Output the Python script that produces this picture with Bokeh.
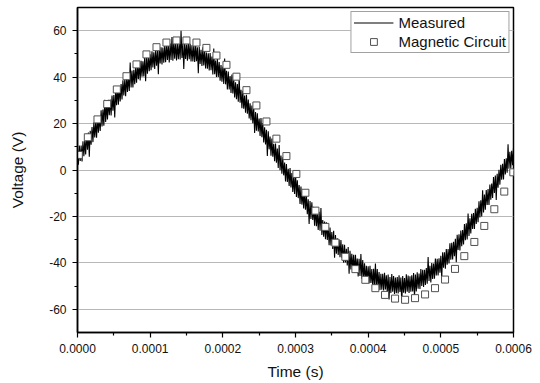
import numpy as np
from bokeh.plotting import figure
from bokeh.models import (FixedTicker, NumeralTickFormatter, Range1d, Legend,
                          LegendItem, ColumnDataSource)
from bokeh.embed import file_html
from bokeh.resources import INLINE

# ---- data ----
# Measured voltage (noisy), sampled every 1.25 microseconds from 0 to 0.6 ms
measured_v = [
    8.9, 2.3, 10.5, 3.9, 10.5, 3.7, 12.4, 5.9,
    12.8, 6.7, 15.6, 8.7, 16.1, 5.7, 16.9, 10.9,
    18.5, 12.0, 20.5, 14.0, 20.8, 13.9, 22.7, 16.1,
    23.0, 16.8, 25.7, 18.7, 26.1, 19.1, 30.3, 20.7,
    28.3, 21.8, 30.2, 23.6, 30.4, 23.5, 32.1, 25.5,
    32.3, 22.6, 34.9, 27.9, 35.2, 28.1, 35.7, 29.5,
    37.0, 30.4, 38.7, 32.1, 38.8, 31.8, 40.4, 33.6,
    40.4, 34.0, 46.3, 35.6, 42.8, 35.6, 43.2, 36.9,
    44.3, 37.6, 45.8, 39.1, 45.7, 38.6, 47.0, 40.2,
    46.8, 40.3, 49.0, 38.2, 48.8, 41.5, 48.9, 42.5,
    49.8, 43.0, 51.1, 44.2, 50.7, 43.5, 51.8, 44.9,
    51.4, 41.3, 53.3, 45.9, 52.9, 45.5, 52.8, 46.2,
    53.4, 46.4, 54.4, 47.4, 53.7, 46.3, 54.5, 47.4,
    57.3, 47.1, 55.5, 47.9, 54.8, 47.2, 54.4, 47.7,
    54.7, 47.6, 60.0, 48.3, 54.5, 43.5, 55.0, 47.8,
    54.0, 47.1, 55.4, 47.7, 54.4, 46.7, 53.7, 46.8,
    53.7, 46.5, 54.1, 46.9, 52.9, 41.7, 53.1, 45.7,
    51.8, 44.8, 52.9, 45.0, 51.6, 43.7, 50.6, 43.6,
    50.3, 42.9, 50.4, 43.0, 48.9, 41.1, 52.3, 41.3,
    47.2, 40.1, 48.0, 40.1, 46.5, 38.5, 45.2, 38.0,
    44.6, 37.1, 48.0, 36.9, 42.7, 34.7, 42.4, 34.7,
    40.5, 33.2, 41.1, 33.0, 39.3, 31.2, 37.8, 30.5,
    37.0, 29.4, 40.1, 29.0, 34.6, 26.6, 34.1, 26.4,
    32.1, 24.7, 32.4, 24.2, 30.4, 22.2, 28.7, 21.4,
    27.8, 20.1, 27.2, 16.0, 25.0, 16.9, 24.4, 16.6,
    22.2, 14.7, 22.4, 14.1, 20.2, 11.9, 18.4, 11.0,
    17.3, 6.0, 16.7, 8.9, 14.4, 6.2, 13.6, 5.7,
    11.3, 3.8, 11.4, 3.1, 9.2, 0.9, 10.8, -0.1,
    6.2, -1.6, 5.5, -2.3, 3.2, -4.9, 2.6, -5.2,
    0.5, -6.9, 0.8, -7.5, -1.3, -9.5, -3.0, -10.3,
    -0.4, -11.6, -4.4, -12.1, -6.5, -14.6, -7.1, -14.9,
    -9.2, -16.6, -8.9, -17.1, -10.9, -19.1, -12.6, -23.3,
    -13.4, -21.1, -13.9, -21.5, -15.9, -24.0, -16.4, -24.2,
    -18.4, -25.8, -18.0, -26.2, -16.4, -28.0, -21.5, -28.7,
    -22.2, -29.8, -22.5, -30.1, -24.4, -32.4, -24.8, -32.5,
    -26.7, -34.0, -26.2, -37.8, -28.0, -36.1, -29.4, -36.6,
    -30.0, -37.6, -30.2, -37.8, -32.0, -39.9, -32.2, -39.8,
    -33.9, -41.1, -33.2, -44.7, -34.8, -42.8, -36.1, -43.1,
    -36.5, -44.0, -36.5, -44.0, -38.1, -45.9, -38.2, -45.7,
    -36.2, -46.8, -38.8, -46.7, -40.2, -48.1, -41.3, -48.2,
    -41.5, -48.9, -41.3, -48.7, -42.7, -50.4, -42.5, -49.9,
    -40.3, -50.8, -42.7, -50.5, -43.9, -51.7, -44.7, -51.6,
    -44.7, -51.9, -44.3, -51.5, -45.4, -53.0, -45.0, -55.8,
    -46.1, -53.0, -44.8, -52.4, -45.7, -53.4, -46.3, -53.1,
    -46.1, -53.2, -45.4, -52.5, -46.3, -57.3, -45.7, -52.9,
    -46.5, -53.2, -44.9, -52.4, -45.5, -53.0, -45.8, -52.4,
    -45.3, -52.3, -44.4, -54.8, -45.0, -52.3, -44.1, -51.1,
    -44.6, -51.2, -42.7, -50.0, -43.0, -50.4, -43.0, -49.5,
    -42.2, -49.0, -37.5, -47.8, -41.3, -48.5, -40.1, -46.9,
    -40.3, -46.8, -38.1, -45.4, -38.2, -45.4, -38.0, -44.3,
    -36.9, -47.1, -35.4, -42.1, -35.4, -42.5, -34.0, -40.8,
    -34.0, -40.3, -31.6, -38.7, -31.4, -38.5, -30.9, -37.1,
    -29.6, -39.7, -27.9, -34.5, -27.7, -34.7, -26.1, -32.8,
    -25.9, -32.1, -23.3, -30.3, -22.9, -29.9, -18.8, -28.4,
    -20.8, -27.3, -18.9, -25.4, -18.5, -25.4, -16.7, -23.3,
    -16.3, -22.5, -13.5, -20.5, -13.0, -20.0, -8.7, -18.3,
    -10.6, -17.1, -8.6, -15.1, -8.2, -15.1, -6.3, -12.8,
    -5.8, -12.0, -3.0, -9.9, -2.4, -12.9, -1.6, -7.6,
    0.1, -6.3, 2.2, -4.2, 2.7, -4.1, 4.7, -1.9,
    5.1, -1.2, 11.1, 0.5, 7.8, 0.7, 8.3, 2.1,
    9.6,
]
measured_t = np.linspace(0.0, 0.0006, len(measured_v))

# Magnetic circuit model points (time in microseconds, voltage in V)
mc_t_us = [1.8, 14.2, 27.5, 40.9, 54.1, 67.4, 81.2, 94.9, 108.7, 122.4,
           136.2, 149.9, 163.7, 177.4, 191.2, 205.0, 218.7, 232.5, 246.2, 260.0,
           273.7, 287.5, 301.2, 313.6, 327.4, 341.1, 354.9, 368.6, 382.4, 396.1,
           409.9, 423.2, 437.0, 450.8, 464.5, 478.3, 492.0, 505.8, 519.5, 532.3,
           546.1, 559.8, 573.6, 587.3, 599.7]
mc_v = [6.5, 14.1, 21.8, 28.4, 34.7, 40.4, 45.5, 49.8, 52.9, 54.9,
        55.8, 55.8, 54.9, 52.6, 49.3, 45.3, 40.2, 34.4, 27.8, 20.9,
        13.5, 6.0, -1.7, -9.8, -17.5, -24.5, -31.3, -37.4, -42.7, -47.3,
        -50.9, -53.8, -55.4, -55.9, -55.2, -53.6, -50.9, -47.2, -42.6, -37.1,
        -31.0, -24.1, -16.9, -9.3, -1.0]
mc_t = [t * 1e-6 for t in mc_t_us]

x_ticks = [0.0, 0.0001, 0.0002, 0.0003, 0.0004, 0.0005, 0.0006]
x_minor = [0.00005, 0.00015, 0.00025, 0.00035, 0.00045, 0.00055]
y_ticks = [-60, -40, -20, 0, 20, 40, 60]
y_minor = [-50, -30, -10, 10, 30, 50]

FONT = "Liberation Sans"

p = figure(width=540, height=383, output_backend="svg", toolbar_location=None,
           x_range=Range1d(0.0, 0.0006), y_range=Range1d(-70, 70),
           min_border_left=77, min_border_right=27, min_border_top=7,
           min_border_bottom=51)

p.background_fill_color = "white"
p.border_fill_color = "white"
p.outline_line_color = "black"
p.outline_line_width = 1.5
p.outline_line_alpha = 1.0

p.xgrid.visible = False
p.ygrid.grid_line_color = "#b8b8b8"
p.ygrid.grid_line_width = 1

p.xaxis.ticker = FixedTicker(ticks=x_ticks, minor_ticks=x_minor)
p.yaxis.ticker = FixedTicker(ticks=y_ticks, minor_ticks=y_minor)
p.xaxis.formatter = NumeralTickFormatter(format="0.0000")
p.yaxis.formatter = NumeralTickFormatter(format="0")

for ax in (p.xaxis[0], p.yaxis[0]):
    ax.axis_line_color = "black"
    ax.axis_line_width = 1.5
    ax.major_tick_line_color = "black"
    ax.minor_tick_line_color = "black"
    ax.major_tick_line_width = 1.2
    ax.minor_tick_line_width = 1.2
    ax.major_tick_out = 5
    ax.major_tick_in = 0
    ax.minor_tick_out = 3
    ax.minor_tick_in = 0
    ax.major_label_text_font = FONT
    ax.major_label_text_font_size = "12px"
    ax.major_label_text_color = "#111111"
    ax.axis_label_text_font = FONT
    ax.axis_label_text_font_size = "15.5px"
    ax.axis_label_text_font_style = "normal"
    ax.axis_label_text_color = "#111111"

p.xaxis.axis_label = "Time (s)"
p.yaxis.axis_label = "Voltage (V)"
p.xaxis.major_label_standoff = 6
p.xaxis.axis_label_standoff = 7
p.yaxis.major_label_standoff = 6
p.yaxis.axis_label_standoff = 20

line_r = p.line(measured_t, measured_v, line_color="black", line_width=1.1)
sq_src = ColumnDataSource(dict(t=mc_t, v=mc_v))
sq_r = p.scatter("t", "v", source=sq_src, marker="square", size=7,
                 fill_color="white", line_color="#505050", line_width=1)

legend = Legend(items=[LegendItem(label="Measured", renderers=[line_r]),
                       LegendItem(label="Magnetic Circuit", renderers=[sq_r])],
                location="top_right", margin=4, padding=2, spacing=2,
                glyph_width=40, glyph_height=17, label_height=17,
                label_standoff=5, border_line_color="#444444",
                border_line_width=1, background_fill_alpha=1.0,
                label_text_font=FONT, label_text_font_size="15px",
                label_text_color="#111111")
p.add_layout(legend)

open("out.html", "w").write(file_html(p, INLINE))
